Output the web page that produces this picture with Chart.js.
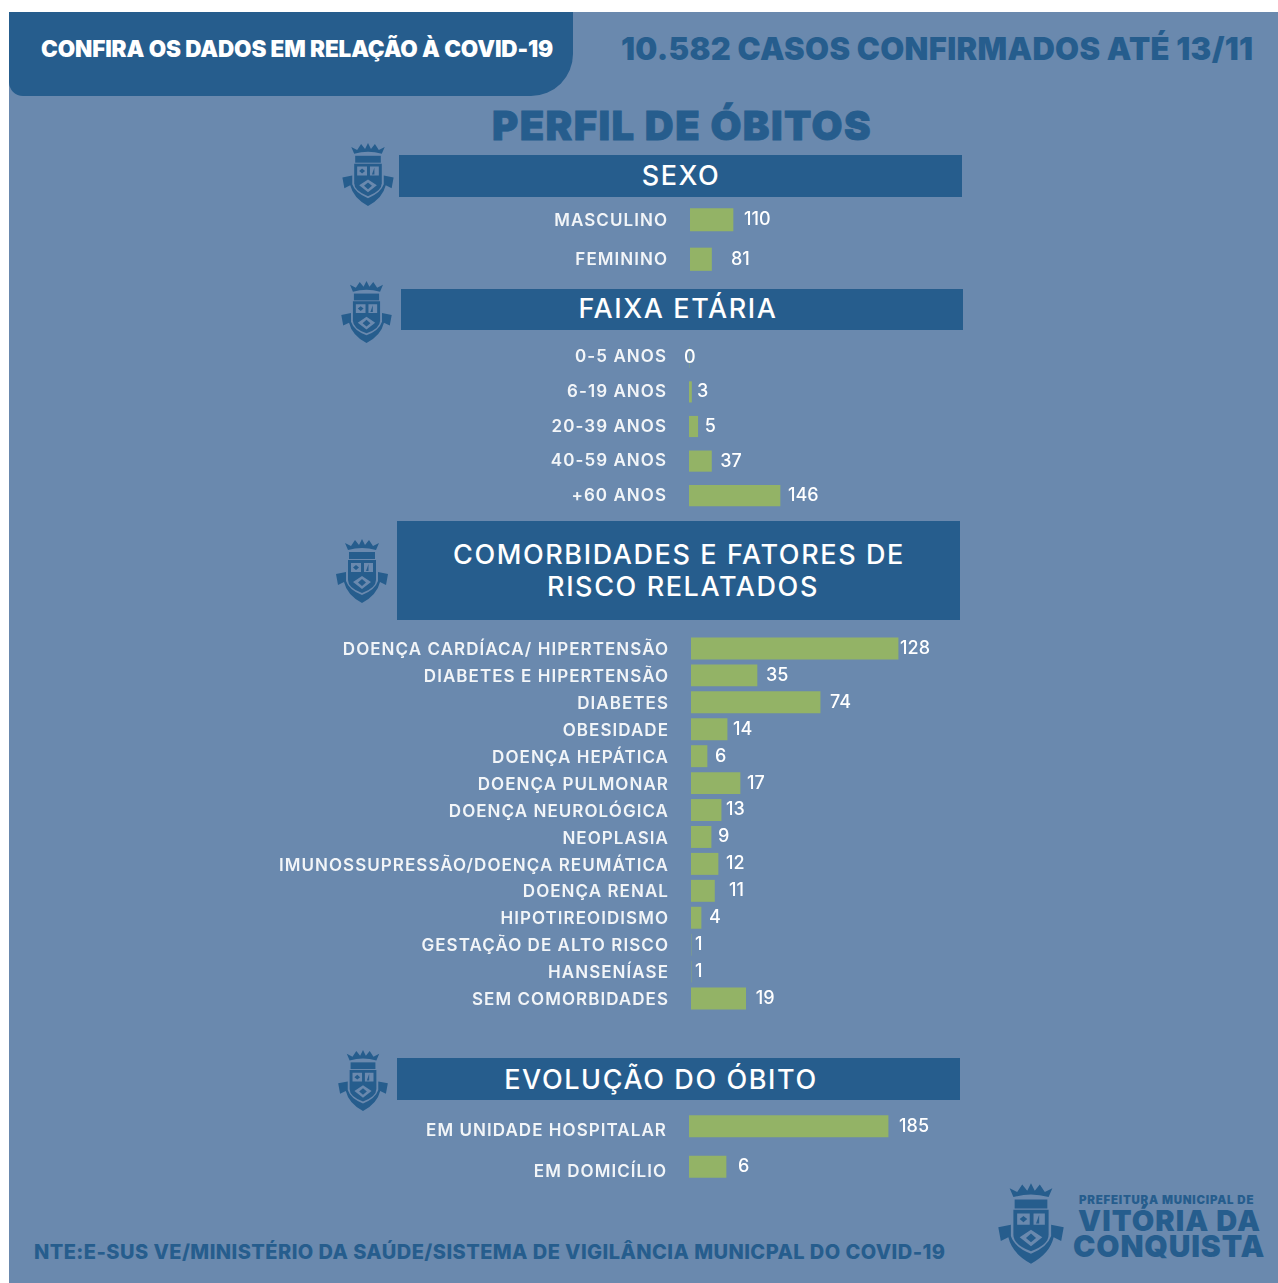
<!DOCTYPE html>
<html lang="pt-BR">
<head>
<meta charset="utf-8">
<title>Perfil de óbitos COVID-19</title>
<script src="https://cdn.jsdelivr.net/npm/chart.js@4/dist/chart.umd.min.js"></script>
<style>
  html, body { margin: 0; padding: 0; background: #fff; }
  body { width: 1278px; height: 1283px; overflow: hidden; position: relative; font-family: Inter, sans-serif; }
  #page { position: absolute; left: 9px; top: 12px; width: 1269px; height: 1271px; background: #6a89ae; }
  .txt { position: absolute; white-space: nowrap; line-height: 40px; height: 40px; }
  .band { position: absolute; background: #265d8d; }
  .dark { color: #265d8d; }
  .head { color: #fff; font-size: 27px; font-weight: 500; letter-spacing: 1.6px; transform: translateX(-50%); }
  canvas { position: absolute; }
  svg { position: absolute; fill: #265d8d; }
</style>
</head>
<body>
<div id="page"></div>

<div class="band" style="left:9px;top:12px;width:564px;height:84px;border-radius:0 0 42px 14px"></div>
<div class="txt" style="left:41px;top:29px;color:#fff;font-size:22.5px;font-weight:900;letter-spacing:-0.13px">CONFIRA OS DADOS EM RELAÇÃO À COVID-19</div>
<div class="txt dark" style="left:621px;top:29px;font-size:31px;font-weight:900;letter-spacing:0.3px">10.582 CASOS CONFIRMADOS ATÉ 13/11</div>
<div class="txt dark" style="left:492px;top:106px;font-size:40px;font-weight:900;letter-spacing:1.4px;-webkit-text-stroke:0.8px #265d8d">PERFIL DE ÓBITOS</div>

<div class="band" style="left:399px;top:155px;width:563px;height:41.5px"></div>
<div class="txt head" style="left:681px;top:156px">SEXO</div>
<div class="band" style="left:401px;top:289px;width:562px;height:41px"></div>
<div class="txt head" style="left:678px;top:289px">FAIXA ETÁRIA</div>
<div class="band" style="left:397px;top:521px;width:563px;height:99px"></div>
<div class="txt head" style="left:679px;top:535px">COMORBIDADES E FATORES DE</div>
<div class="txt head" style="left:683px;top:567px">RISCO RELATADOS</div>
<div class="band" style="left:397px;top:1058px;width:563px;height:42px"></div>
<div class="txt head" style="left:661px;top:1060px">EVOLUÇÃO DO ÓBITO</div>

<svg width="0" height="0" style="position:absolute">
  <symbol id="crest" viewBox="0 0 54 66">
    <path d="M13 12 L10 5 L16 8 L20 2 L24 7 L27 1 L30 7 L34 2 L38 8 L44 5 L41 12 Q27 8 13 12Z"/>
    <path d="M14 14 H40 V21 H14Z"/>
    <path d="M13 22 H41 V42 Q41 50 27 55 Q13 50 13 42Z"/>
    <path fill="#6a89ae" d="M16 25 H26 V34 H16Z M29 25 H38 V34 H29Z M27 38 L36 44 L27 51 L18 44Z"/>
    <path d="M21 27 L24 29.5 L21 32 L18 29.5Z M33.5 26 V33 H31 L33.5 26Z M27 41 L31 44.5 L27 48 L23 44.5Z"/>
    <path d="M1 36 L11 34 V43 Q14 52 27 57 Q40 52 43 43 V34 L53 36 L51 47 L45 44 Q42 57 27 65 Q12 57 9 44 L3 47Z"/>
  </symbol>
</svg>
<svg style="left:341px;top:142px" width="54" height="65"><use href="#crest"/></svg>
<svg style="left:340px;top:280px" width="53" height="64"><use href="#crest"/></svg>
<svg style="left:335px;top:538px" width="54" height="66"><use href="#crest"/></svg>
<svg style="left:336px;top:1049px" width="54" height="63"><use href="#crest"/></svg>
<svg style="left:997px;top:1182px" width="68" height="83"><use href="#crest"/></svg>

<canvas id="sexoChart" width="740" height="79" style="left:260px;top:200px"></canvas>
<canvas id="faixaChart" width="740" height="173" style="left:260px;top:340px"></canvas>
<canvas id="comorbChart" width="740" height="377" style="left:260px;top:635px"></canvas>
<canvas id="evolucaoChart" width="740" height="81" style="left:260px;top:1106px"></canvas>

<div class="txt dark" style="left:34px;top:1232px;font-size:20px;font-weight:800;letter-spacing:0.44px">NTE:E-SUS VE/MINISTÉRIO DA SAÚDE/SISTEMA DE VIGILÂNCIA MUNICPAL DO COVID-19</div>
<div class="txt dark" style="left:1079px;top:1180px;font-size:11.5px;font-weight:900;letter-spacing:0.75px">PREFEITURA MUNICIPAL DE</div>
<div class="txt dark" style="left:1078px;top:1201px;font-size:29px;font-weight:900;letter-spacing:1.1px">VITÓRIA DA</div>
<div class="txt dark" style="left:1073px;top:1226px;font-size:30px;font-weight:900;letter-spacing:0.85px">CONQUISTA</div>

<script>
// Values printed next to each bar
const sexoLabels = ['MASCULINO', 'FEMININO'];
const sexoPrinted = [110, 81];
const faixaLabels = ['0-5 ANOS', '6-19 ANOS', '20-39 ANOS', '40-59 ANOS', '+60 ANOS'];
const faixaPrinted = [0, 3, 5, 37, 146];
const comorbLabels = ['DOENÇA CARDÍACA/ HIPERTENSÃO', 'DIABETES E HIPERTENSÃO', 'DIABETES', 'OBESIDADE',
    'DOENÇA HEPÁTICA', 'DOENÇA PULMONAR', 'DOENÇA NEUROLÓGICA', 'NEOPLASIA', 'IMUNOSSUPRESSÃO/DOENÇA REUMÁTICA',
    'DOENÇA RENAL', 'HIPOTIREOIDISMO', 'GESTAÇÃO DE ALTO RISCO', 'HANSENÍASE', 'SEM COMORBIDADES'];
const comorbPrinted = [128, 35, 74, 14, 6, 17, 13, 9, 12, 11, 4, 1, 1, 19];
const evolucaoLabels = ['EM UNIDADE HOSPITALAR', 'EM DOMICÍLIO'];
const evolucaoPrinted = [185, 6];

// The bars in the source are not to scale with their printed numbers (81 is half the
// length of 110, the two 1s have no bar). These are the lengths as they appear, read
// against the longest bar of each group, so the picture keeps the source's look.
const sexoBars = [110, 55];
const faixaBars = [0, 4, 14, 36, 146];
const comorbBars = [128, 40.8, 79.8, 22.3, 9.9, 30.3, 18.6, 12.4, 16.7, 14.5, 6.2, 0, 0, 33.8];
const evolucaoBars = [185, 34.4];

// Space between bar end and its number, as laid out by hand in the source
const sexoGaps = [11, 19.5];
const faixaGaps = [-5, 5.5, 7, 8.7, 8];
const comorbGaps = [2, 9, 10, 6, 8, 7, 5, 7, 8, 14.5, 8, 4, 4, 10];
const evolucaoGaps = [11, 12];

// Draws the printed number beside each bar, and sets the tick letter spacing
const printedNumbers = {
    id: 'printedNumbers',
    beforeDraw(chart) {
        chart.ctx.letterSpacing = '1.05px';
    },
    afterDatasetsDraw(chart, args, opts) {
        const ctx = chart.ctx;
        ctx.save();
        ctx.letterSpacing = '0px';
        ctx.font = '500 18px Inter, sans-serif';
        ctx.fillStyle = '#ffffff';
        ctx.textBaseline = 'middle';
        chart.getDatasetMeta(0).data.forEach((bar, i) => {
            ctx.fillText(String(opts.printed[i]), bar.x + opts.gaps[i], bar.y);
        });
        ctx.restore();
    }
};

// Function to build one of the four horizontal bar groups
function renderGroup(id, labels, bars, printed, gaps, axisWidth, xMax, thickness, labelOffset) {
    const ctx = document.getElementById(id).getContext('2d');
    return new Chart(ctx, {
        type: 'bar',
        data: {
            labels: labels,
            datasets: [{ data: bars, backgroundColor: '#93b366', barThickness: thickness }]
        },
        plugins: [printedNumbers],
        options: {
            indexAxis: 'y',
            responsive: false,
            animation: false,
            layout: { padding: 0 },
            plugins: {
                legend: { display: false },
                tooltip: { enabled: false },
                printedNumbers: { printed: printed, gaps: gaps }
            },
            scales: {
                x: { display: false, min: 0, max: xMax },
                y: {
                    // tick padding also pads the axis ends, so drop that to keep the rows to the canvas height
                    afterFit: scale => {
                        scale.width = axisWidth;
                        scale.paddingTop = 0;
                        scale.paddingBottom = 0;
                    },
                    grid: { display: false, drawTicks: false },
                    border: { display: false },
                    ticks: {
                        color: '#f2f5f8',
                        padding: 22,
                        labelOffset: labelOffset,
                        autoSkip: false,
                        font: { family: 'Inter, sans-serif', size: 17, weight: '600' }
                    }
                }
            }
        }
    });
}

renderGroup('sexoChart', sexoLabels, sexoBars, sexoPrinted, sexoGaps, 430, 793, 22.5, 1);
renderGroup('faixaChart', faixaLabels, faixaBars, faixaPrinted, faixaGaps, 429, 499, 20.5, 0);
renderGroup('comorbChart', comorbLabels, comorbBars, comorbPrinted, comorbGaps, 431, 191, 21.3, 1.5);
renderGroup('evolucaoChart', evolucaoLabels, evolucaoBars, evolucaoPrinted, evolucaoGaps, 429, 289, 21.5, 5);
</script>
</body>
</html>
